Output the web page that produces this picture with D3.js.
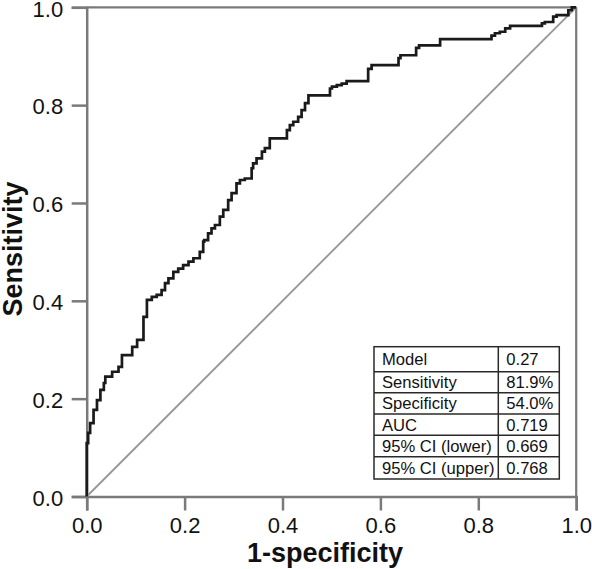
<!DOCTYPE html>
<html>
<head>
<meta charset="utf-8">
<script src="https://cdn.jsdelivr.net/npm/d3@7"></script>
<style>
  html, body { margin: 0; padding: 0; background: #fff; }
  svg { display: block; font-family: Arial, "Liberation Sans", sans-serif; }
</style>
</head>
<body>
<svg id="chart" width="592" height="569"></svg>
<script>
// ---- data ----
const fpr = [0, 0, 0.003, 0.007, 0.014, 0.021, 0.028, 0.035, 0.038, 0.052, 0.065, 0.072, 0.079, 0.093, 0.103, 0.116, 0.116, 0.123, 0.133, 0.143, 0.153, 0.160, 0.167, 0.177, 0.187, 0.197, 0.208, 0.218, 0.231, 0.238, 0.240, 0.248, 0.255, 0.262, 0.272, 0.279, 0.289, 0.296, 0.306, 0.313, 0.323, 0.337, 0.340, 0.347, 0.358, 0.364, 0.374, 0.385, 0.409, 0.415, 0.422, 0.432, 0.439, 0.446, 0.453, 0.460, 0.497, 0.501, 0.511, 0.521, 0.531, 0.538, 0.575, 0.582, 0.592, 0.637, 0.641, 0.650, 0.673, 0.679, 0.688, 0.722, 0.728, 0.827, 0.834, 0.844, 0.855, 0.865, 0.875, 0.930, 0.936, 0.953, 0.960, 0.984, 0.991, 0.998, 1.0];
const tpr = [0, 0.061, 0.109, 0.130, 0.150, 0.177, 0.197, 0.218, 0.232, 0.245, 0.255, 0.265, 0.289, 0.289, 0.306, 0.320, 0.347, 0.367, 0.402, 0.408, 0.412, 0.422, 0.436, 0.446, 0.459, 0.466, 0.473, 0.480, 0.487, 0.500, 0.521, 0.524, 0.538, 0.548, 0.555, 0.572, 0.586, 0.606, 0.620, 0.640, 0.647, 0.650, 0.671, 0.681, 0.691, 0.705, 0.712, 0.732, 0.732, 0.749, 0.759, 0.766, 0.776, 0.790, 0.804, 0.820, 0.820, 0.834, 0.838, 0.841, 0.844, 0.849, 0.849, 0.874, 0.882, 0.882, 0.896, 0.902, 0.902, 0.917, 0.922, 0.922, 0.935, 0.935, 0.942, 0.947, 0.950, 0.957, 0.962, 0.962, 0.967, 0.970, 0.981, 0.984, 0.994, 1.0, 1.0];
const xTicks = [0, 0.2, 0.4, 0.6, 0.8, 1.0];
const yTicks = [0, 0.2, 0.4, 0.6, 0.8, 1.0];
const tableLabels = ["Model", "Sensitivity", "Specificity", "AUC", "95% CI (lower)", "95% CI (upper)"];
const tableValues = ["0.27", "81.9%", "54.0%", "0.719", "0.669", "0.768"];
const xTitle = "1-specificity";
const yTitle = "Sensitivity";

// ---- layout ----
const W = 592, H = 569;
const m = { left: 86.7, right: 15.8, top: 7.3, bottom: 72.5 };
const svg = d3.select("#chart");
const x = d3.scaleLinear().domain([0, 1]).range([m.left, W - m.right]);
const y = d3.scaleLinear().domain([0, 1]).range([H - m.bottom, m.top]);

const axisColor = "#7a7a7a";

// frame (top and right)
svg.append("line").attr("x1", x(0)).attr("x2", x(1)).attr("y1", y(1)).attr("y2", y(1))
  .attr("stroke", axisColor).attr("stroke-width", 2.2);
svg.append("line").attr("x1", x(1)).attr("x2", x(1)).attr("y1", y(1)).attr("y2", y(0))
  .attr("stroke", axisColor).attr("stroke-width", 2.2);

// axes
const gx = svg.append("g").attr("transform", `translate(0,${y(0)})`)
  .call(d3.axisBottom(x).tickValues(xTicks).tickFormat(d3.format(".1f")).tickSize(14).tickPadding(7));
const gy = svg.append("g").attr("transform", `translate(${x(0)},0)`)
  .call(d3.axisLeft(y).tickValues(yTicks).tickFormat(d3.format(".1f")).tickSize(15).tickPadding(8));
[gx, gy].forEach(g => {
  g.select(".domain").attr("stroke", axisColor).attr("stroke-width", 2.5);
  g.selectAll(".tick line").attr("stroke", axisColor).attr("stroke-width", 2.5);
  g.selectAll(".tick text").attr("fill", "#111").style("font-size", "22px")
    .style("font-family", "Arial, 'Liberation Sans', sans-serif");
});
gy.selectAll(".tick text").attr("x", -23.5).attr("dy", "0.4em");

// diagonal reference
svg.append("line").attr("x1", x(0)).attr("y1", y(0)).attr("x2", x(1)).attr("y2", y(1))
  .attr("stroke", "#999").attr("stroke-width", 1.9);

// ROC curve
const pts = fpr.map((v, i) => [v, tpr[i]]);
svg.append("path").datum(pts)
  .attr("d", d3.line().x(d => x(d[0])).y(d => y(d[1])).curve(d3.curveStepBefore))
  .attr("fill", "none").attr("stroke", "#1a1a1a").attr("stroke-width", 2.7)
  .attr("stroke-linejoin", "miter");

// axis titles
svg.append("text").attr("x", 325).attr("y", 562).attr("text-anchor", "middle")
  .style("font-size", "27px").style("font-weight", "bold").attr("fill", "#111").text(xTitle);
svg.append("text").attr("transform", `translate(22,${(y(0) + y(1)) / 2 - 3}) rotate(-90)`)
  .attr("text-anchor", "middle")
  .style("font-size", "27px").style("font-weight", "bold").attr("fill", "#111").text(yTitle);

// stats table
const tL = 374, tR = 559.3, tC = 498.3;
const rowY = [346.7, 371.7, 392.7, 414, 435.3, 456.7, 479];
const tg = svg.append("g");
tg.append("rect").attr("x", tL).attr("y", rowY[0]).attr("width", tR - tL).attr("height", rowY[6] - rowY[0])
  .attr("fill", "#fff").attr("stroke", "#2a2a2a").attr("stroke-width", 1.5);
tg.append("line").attr("x1", tC).attr("x2", tC).attr("y1", rowY[0]).attr("y2", rowY[6])
  .attr("stroke", "#2a2a2a").attr("stroke-width", 1.5);
for (let i = 1; i < 6; i++) {
  tg.append("line").attr("x1", tL).attr("x2", tR).attr("y1", rowY[i]).attr("y2", rowY[i])
    .attr("stroke", "#2a2a2a").attr("stroke-width", 1.5);
}
tableLabels.forEach((lab, i) => {
  const cy = (rowY[i] + rowY[i + 1]) / 2;
  tg.append("text").attr("x", tL + 8).attr("y", cy + 6).style("font-size", "16.6px")
    .attr("fill", "#111").text(lab);
  tg.append("text").attr("x", tC + 8).attr("y", cy + 6).style("font-size", "16.6px")
    .attr("fill", "#111").text(tableValues[i]);
});
</script>
</body>
</html>
